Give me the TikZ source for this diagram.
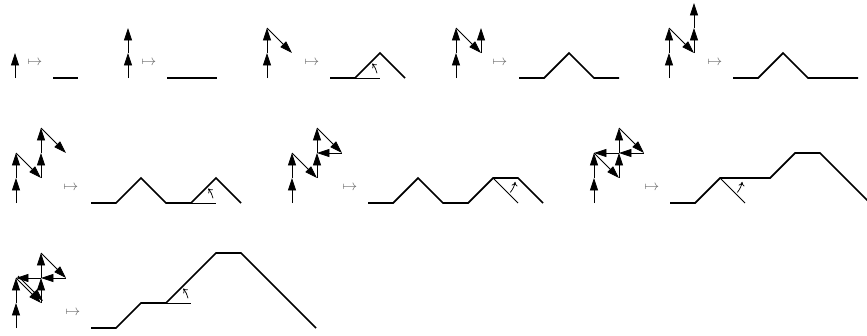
\documentclass[tikz,border=0pt]{standalone}
\usepackage{tikz}
\usetikzlibrary{calc,arrows.meta}
\def\turnarc(#1)(#2:#3){\draw[turn] ($(#1)+({0.9*cos(#2)},{0.9*sin(#2)})$) arc (#2:#3:0.9);}

\begin{document}
\begin{tikzpicture}[x=0.6cm, y=0.6cm,
	vec/.style={line width=0.5pt, -{Triangle[length=8.5pt, width=5.5pt]}},
	walk/.style={line width=1.2pt, line join=miter},
	refline/.style={line width=0.5pt},
	turn/.style={line width=0.5pt, -{To[length=2.8pt, width=4pt]}},
	mapsto/.style={text=black!60, inner sep=0pt}]
			%%%%% START %%%%%
			\useasboundingbox (0, -10.28) rectangle (34.68, 3.12);
			
			% row 1
			\draw[vec] (0.6, 0) -- (0.6, 1);
			\node[mapsto] (m1) at (1.4, 0.62) {$\mapsto$};
			\draw[walk] (2.12, 0) -- (3.12, 0);
			
			\draw[vec] (5.12, 0) -- (5.12, 1);
			\draw[vec] (5.12, 1) -- (5.12, 2);
			\node[mapsto] (m2) at (5.96, 0.62) {$\mapsto$};
			\draw[walk] (6.68, 0) -- (8.68, 0);
			
			\draw[vec] (10.68, 0) -- (10.68, 1);
			\draw[vec] (10.68, 1) -- (10.68, 2);
			\draw[vec] (10.68, 2) -- (11.68, 1);
			\node[mapsto] (m3) at (12.48, 0.62) {$\mapsto$};
			\draw[walk] (13.2, 0) -- (14.2, 0) -- (15.2, 1) -- (16.2, 0);
			\draw[refline] (14.2, 0) -- (15.2, 0);
			\turnarc(14.2, 0)(12:40);
			
			\draw[vec] (18.24, 0) -- (18.24, 1);
			\draw[vec] (18.24, 1) -- (18.24, 2);
			\draw[vec] (18.24, 2) -- (19.24, 1);
			\draw[vec] (19.24, 1) -- (19.24, 2);
			\node[mapsto] (m4) at (20, 0.62) {$\mapsto$};
			\draw[walk] (20.76, 0) -- (21.76, 0) -- (22.76, 1) -- (23.76, 0) -- (24.76, 0);
			
			\draw[vec] (26.76, 0) -- (26.76, 1);
			\draw[vec] (26.76, 1) -- (26.76, 2);
			\draw[vec] (26.76, 2) -- (27.76, 1);
			\draw[vec] (27.76, 1) -- (27.76, 2);
			\draw[vec] (27.76, 2) -- (27.76, 3);
			\node[mapsto] (m5) at (28.6, 0.62) {$\mapsto$};
			\draw[walk] (29.32, 0) -- (30.32, 0) -- (31.32, 1) -- (32.32, 0) -- (34.32, 0);
			
			% row 2
			\draw[vec] (0.64, -5) -- (0.64, -4);
			\draw[vec] (0.64, -4) -- (0.64, -3);
			\draw[vec] (0.64, -3) -- (1.64, -4);
			\draw[vec] (1.64, -4) -- (1.64, -3);
			\draw[vec] (1.64, -3) -- (1.64, -2);
			\draw[vec] (1.64, -2) -- (2.64, -3);
			\node[mapsto] (m6) at (2.84, -4.38) {$\mapsto$};
			\draw[walk] (3.64, -5) -- (4.64, -5) -- (5.64, -4) -- (6.64, -5) -- (7.64, -5) -- (8.64, -4) -- (9.64, -5);
			\draw[refline] (7.64, -5) -- (8.64, -5);
			\turnarc(7.64, -5)(12:40);
			
			\draw[vec] (11.68, -5) -- (11.68, -4);
			\draw[vec] (11.68, -4) -- (11.68, -3);
			\draw[vec] (11.68, -3) -- (12.68, -4);
			\draw[vec] (12.68, -4) -- (12.68, -3);
			\draw[vec] (12.68, -3) -- (12.68, -2);
			\draw[vec] (12.68, -2) -- (13.68, -3);
			\draw[vec] (13.68, -3) -- (12.68, -3);
			\node[mapsto] (m7) at (14, -4.38) {$\mapsto$};
			\draw[walk] (14.72, -5) -- (15.72, -5) -- (16.72, -4) -- (17.72, -5) -- (18.72, -5) -- (19.72, -4) -- (20.72, -4) -- (21.72, -5);
			\draw[refline] (19.72, -4) -- (20.72, -5);
			\turnarc(19.72, -4)(-40:-10);
			
			\draw[vec] (23.76, -5) -- (23.76, -4);
			\draw[vec] (23.76, -4) -- (23.76, -3);
			\draw[vec] (23.76, -3) -- (24.76, -4);
			\draw[vec] (24.76, -4) -- (24.76, -3);
			\draw[vec] (24.76, -3) -- (24.76, -2);
			\draw[vec] (24.76, -2) -- (25.76, -3);
			\draw[vec] (25.76, -3) -- (24.76, -3);
			\draw[vec] (24.76, -3) -- (23.76, -3);
			\node[mapsto] (m8) at (26.08, -4.38) {$\mapsto$};
			\draw[walk] (26.8, -5) -- (27.8, -5) -- (28.8, -4) -- (30.8, -4) -- (31.8, -3) -- (32.8, -3) -- (34.8, -5);
			\draw[refline] (28.8, -4) -- (29.8, -5);
			\turnarc(28.8, -4)(-40:-10);
			
			% row 3
			\draw[vec] (0.64, -10) -- (0.64, -9);
			\draw[vec] (0.64, -9) -- (0.64, -8);
			\draw[vec] (0.64, -8) -- (1.64, -9);
			\draw[vec] (1.64, -9) -- (1.64, -8);
			\draw[vec] (1.64, -8) -- (1.64, -7);
			\draw[vec] (1.64, -7) -- (2.64, -8);
			\draw[vec] (2.64, -8) -- (1.64, -8);
			\draw[vec] (1.64, -8) -- (0.64, -8);
			\draw[vec] (0.72, -7.92) -- (1.72, -8.92);
			\node[mapsto] (m9) at (2.92, -9.38) {$\mapsto$};
			\draw[walk] (3.64, -10) -- (4.64, -10) -- (5.64, -9) -- (6.64, -9) -- (8.64, -7) -- (9.64, -7) -- (12.64, -10);
			\draw[refline] (6.64, -9) -- (7.64, -9);
			\turnarc(6.64, -9)(12:40);
			%%%%% END %%%%%
		\end{tikzpicture}
\end{document}
